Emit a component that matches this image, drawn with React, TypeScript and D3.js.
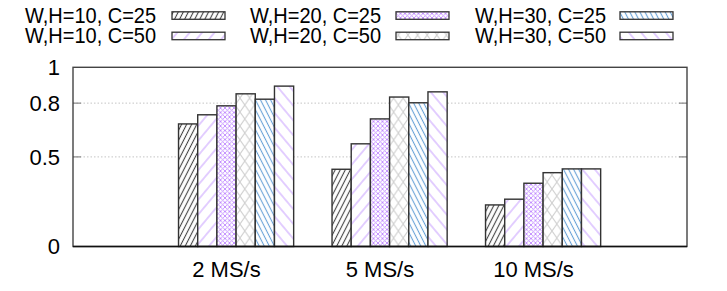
import React from 'react';
import * as d3 from 'd3';

const categories = ['2 MS/s', '5 MS/s', '10 MS/s'];
const seriesNames = [
  'W,H=10, C=25',
  'W,H=10, C=50',
  'W,H=20, C=25',
  'W,H=20, C=50',
  'W,H=30, C=25',
  'W,H=30, C=50',
];
const wh10c25 = [0.684, 0.431, 0.232];
const wh10c50 = [0.735, 0.573, 0.264];
const wh20c25 = [0.785, 0.712, 0.353];
const wh20c50 = [0.852, 0.834, 0.412];
const wh30c25 = [0.822, 0.802, 0.433];
const wh30c50 = [0.895, 0.863, 0.433];
const series = [wh10c25, wh10c50, wh20c25, wh20c50, wh30c25, wh30c50];
const yTicks = [0, 0.5, 0.8, 1];

const W = 727;
const H = 291;
const margin = { left: 73, right: 40, top: 67.3, bottom: 44.5 };
const FONT = '"Liberation Sans", Arial, Helvetica, sans-serif';
const barUnit = 0.125;

// one pattern id per series
const patIds = ['p-dense-fwd', 'p-sparse-fwd', 'p-fine-cross', 'p-big-cross', 'p-dense-back', 'p-sparse-back'];

function Patterns() {
  const lines = (id: string, color: string, gap: number, angle: number, sw = 1) => (
    <pattern id={id} patternUnits="userSpaceOnUse" width={gap} height={10}
      patternTransform={`rotate(${angle})`}>
      <rect width={gap} height={10} fill="#fff" />
      <line x1={gap / 2} y1={0} x2={gap / 2} y2={10} stroke={color} strokeWidth={sw} />
    </pattern>
  );
  const cross = (id: string, color: string, w: number, h: number, sw = 1) => (
    <pattern id={id} patternUnits="userSpaceOnUse" width={w} height={h}>
      <rect width={w} height={h} fill="#fff" />
      <path d={`M0,0L${w},${h}M${w},0L0,${h}`} stroke={color} strokeWidth={sw} fill="none" />
    </pattern>
  );
  return (
    <defs>
      {lines(patIds[0], '#444', 4.5, 27, 1.1)}
      {lines(patIds[1], '#c9a0ff', 9.5, 40)}
      {cross(patIds[2], '#c08aff', 4.5, 4.5, 0.9)}
      {cross(patIds[3], '#cfcfcf', 9.6, 14)}
      {lines(patIds[4], '#6aa3d8', 4.5, -27, 1.1)}
      {lines(patIds[5], '#c9a0ff', 9.5, -40)}
    </defs>
  );
}

export default function App() {
  const x = d3.scaleLinear().domain([-1, 3]).range([margin.left, W - margin.right]);
  const y = d3.scaleLinear().domain([0, 1]).range([H - margin.bottom, margin.top]);
  const x0 = margin.left;
  const x1 = W - margin.right;

  // legend: 2 rows, column-major
  const legendColX = [25, 250, 475];
  const legendSwX = [172, 396, 620];
  const legendRowY = [22.8, 43.2];

  return (
    <svg width={W} height={H} style={{ position: 'absolute', left: 0, top: 0, background: '#fff' }}
      fontFamily={FONT}>
      <Patterns />

      {/* grid */}
      {yTicks.filter(t => t > 0 && t < 1).map(t => (
        <g key={t}>
          <line x1={x0} x2={x1} y1={y(t)} y2={y(t)} stroke="#c4c4c4" strokeDasharray="1.5,2" />
          <line x1={x0} x2={x0 + 8} y1={y(t)} y2={y(t)} stroke="#888" strokeWidth={1.2} />
          <line x1={x1 - 8} x2={x1} y1={y(t)} y2={y(t)} stroke="#888" strokeWidth={1.2} />
        </g>
      ))}

      {/* bars */}
      {series.map((vals, j) =>
        vals.map((v, i) => {
          const left = x(i + (j - 3) * barUnit + barUnit / 2);
          const right = x(i + (j - 2) * barUnit + barUnit / 2);
          return (
            <rect key={`${j}-${i}`} x={left} y={y(v)} width={right - left} height={y(0) - y(v)}
              fill={`url(#${patIds[j]})`} stroke="#333" strokeWidth={1.4} />
          );
        })
      )}

      {/* frame */}
      <rect x={x0} y={y(1)} width={x1 - x0} height={y(0) - y(1)} fill="none" stroke="#444" strokeWidth={1.4} />
      <line x1={x0} x2={x1} y1={y(0)} y2={y(0)} stroke="#111" strokeWidth={1.5} />

      {/* y labels */}
      {yTicks.map(t => (
        <text key={t} x={60} y={y(t)} dy="0.36em" textAnchor="end" fontSize={22} fill="#000">{t}</text>
      ))}

      {/* x labels */}
      {categories.map((c, i) => (
        <text key={c} x={x(i)} y={276.8} textAnchor="middle" fontSize={22} fill="#000">{c}</text>
      ))}

      {/* legend */}
      {seriesNames.map((name, j) => {
        const col = Math.floor(j / 2);
        const row = j % 2;
        const ty = legendRowY[row];
        return (
          <g key={name}>
            <text x={legendColX[col]} y={ty} fontSize={20} fill="#000"
              transform={`translate(${legendColX[col]},${ty}) scale(1,1.08) translate(${-legendColX[col]},${-ty})`}>{name}</text>
            <rect x={legendSwX[col]} y={ty - 11} width={53} height={7.5}
              fill={`url(#${patIds[j]})`} stroke="#333" strokeWidth={1.3} />
          </g>
        );
      })}
    </svg>
  );
}
